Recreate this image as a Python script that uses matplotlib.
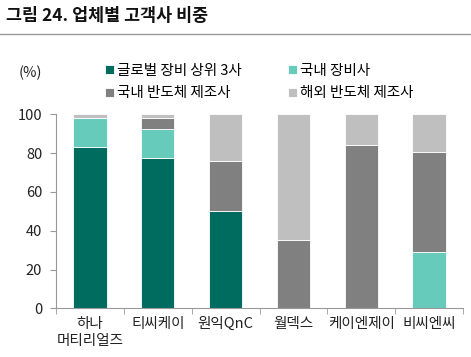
import matplotlib
matplotlib.use("Agg")
import matplotlib.pyplot as plt
import numpy as np

plt.rcParams['font.family'] = ['Noto Sans CJK KR', 'DejaVu Sans']

companies = ["하나\n머티리얼즈", "티씨케이", "원익QnC", "월덱스", "케이엔제이", "비씨엔씨"]
global_top3 = [83, 77.5, 50, 0, 0, 0]
domestic_equip = [15, 15, 0, 0, 0, 29]
domestic_semi = [0, 5.5, 26, 35, 84, 51.5]
overseas_semi = [2, 2, 24, 65, 16, 19.5]

series = [
    ("글로벌 장비 상위 3사", global_top3, "#006B5F"),
    ("국내 장비사", domestic_equip, "#66CBBB"),
    ("국내 반도체 제조사", domestic_semi, "#808080"),
    ("해외 반도체 제조사", overseas_semi, "#BFBFBF"),
]

fig = plt.figure(figsize=(4.71, 3.57), dpi=100)
ax = fig.add_axes([0.119, 0.136, 0.864, 0.544])

x = np.arange(len(companies))
bottom = np.zeros(len(companies))
for name, vals, color in series:
    ax.bar(x, vals, 0.49, bottom=bottom, color=color, label=name,
           edgecolor="white", linewidth=0.6)
    bottom += np.array(vals)

ax.set_ylim(0, 100)
ax.set_xlim(-0.5, len(companies) - 0.5)
ax.set_yticks(range(0, 101, 20))
ax.set_xticks(x)
ax.set_xticklabels(companies, fontsize=10.5, color="#222222", linespacing=1.3)
ax.set_xticks(np.arange(-0.5, len(companies), 1), minor=True)
ax.tick_params(axis="x", which="major", length=0, pad=6)
ax.tick_params(axis="x", which="minor", length=4, color="#999999", direction="out")
ax.tick_params(axis="y", length=4, color="#999999", labelsize=10.5,
               labelcolor="#222222", pad=6)
for s in ["top", "right"]:
    ax.spines[s].set_visible(False)
for s in ["left", "bottom"]:
    ax.spines[s].set_color("#999999")

fig.text(0.012, 0.955, "그림 24. 업체별 고객사 비중", fontsize=12.5,
         fontweight="bold", va="center", color="#111111")
fig.add_artist(plt.Line2D([0, 1], [0.905, 0.905], color="#999999", linewidth=1))
fig.text(0.04, 0.795, "(%)", fontsize=10.5, va="center", color="#222222")

# row-wise legend order like the original
handles, labels = ax.get_legend_handles_labels()
order = [0, 2, 1, 3]
fig.legend([handles[i] for i in order], [labels[i] for i in order], ncol=2,
           loc="center", bbox_to_anchor=(0.55, 0.77),
           frameon=False, fontsize=10.5, handlelength=0.6, handleheight=0.6,
           handletextpad=0.2, columnspacing=3.2, labelspacing=0.6)

fig.savefig("out.png", dpi=100)
